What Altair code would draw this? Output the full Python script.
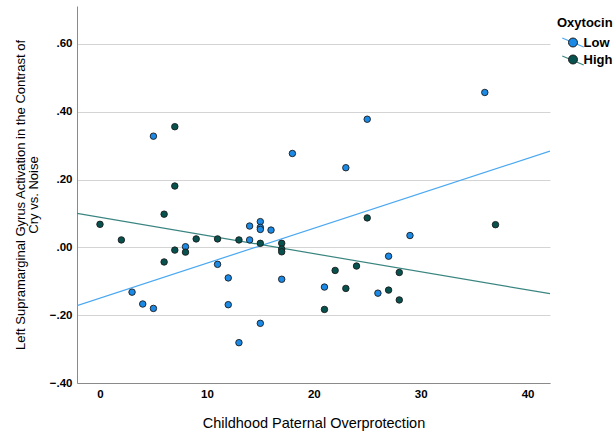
import altair as alt
import pandas as pd

# Childhood paternal overprotection score and left SMG activation (cry vs. noise)
low_x = [5, 18, 14, 15, 15, 15, 16, 14, 11, 12, 12, 15, 13, 17, 8, 3, 4, 5,
         36, 25, 23, 29, 27, 21, 26]
low_y = [0.328, 0.277, 0.063, 0.076, 0.059, 0.053, 0.051, 0.022, -0.050, -0.090,
         -0.169, -0.224, -0.281, -0.094, 0.002, -0.132, -0.167, -0.180,
         0.457, 0.378, 0.235, 0.035, -0.026, -0.117, -0.135]

high_x = [7, 7, 6, 0, 2, 9, 11, 13, 7, 8, 6, 15, 17, 17, 17, 25, 37, 22, 24,
          28, 23, 27, 28, 21]
high_y = [0.356, 0.181, 0.098, 0.068, 0.022, 0.025, 0.025, 0.022, -0.008,
          -0.014, -0.043, 0.012, 0.012, -0.005, -0.013, 0.087, 0.067, -0.068,
          -0.055, -0.074, -0.121, -0.126, -0.155, -0.183]

groups = ["Low", "High"]
fill_colors = ["#1a8ae6", "#07524e"]
line_colors = ["#4aa8f2", "#3a8580"]
x_domain = [-2.15, 42.1]
y_domain = [-0.40, 0.712]
y_ticks = [-0.4, -0.2, 0.0, 0.2, 0.4, 0.6]
x_ticks = [0, 10, 20, 30, 40]

df = pd.concat([
    pd.DataFrame({"x": low_x, "y": low_y, "Oxytocin": "Low"}),
    pd.DataFrame({"x": high_x, "y": high_y, "Oxytocin": "High"}),
], ignore_index=True)

FONT = "Liberation Sans"

# Shared legend layout: a fit-line key sits underneath the marker key
legend_common = dict(
    title="Oxytocin", orient="none", legendX=480, legendY=11,
    symbolSize=80, symbolOffset=9.5, labelOffset=4,
    titleFontSize=13, titleFontWeight="bold", titleColor="#000",
    labelFontSize=13, labelFontWeight="bold", labelColor="#000",
    rowPadding=3, titlePadding=6,
)

x_enc = alt.X(
    "x:Q",
    scale=alt.Scale(domain=x_domain, nice=False, zero=False),
    axis=alt.Axis(
        title="Childhood Paternal Overprotection",
        values=x_ticks, grid=False, ticks=False, labelPadding=5,
        labelFontWeight="bold", labelFontSize=11.5, labelColor="#000",
        titleFontSize=14.5, titleFontWeight="normal", titleColor="#000",
        titlePadding=17, domainColor="#8a8a8a",
    ),
)
y_enc = alt.Y(
    "y:Q",
    scale=alt.Scale(domain=y_domain, nice=False, zero=False),
    axis=alt.Axis(
        title=["Left Supramarginal Gyrus Activation in the Contrast of",
               "Cry vs. Noise"],
        values=y_ticks, grid=True, gridColor="#d4d4d4", ticks=False,
        labelExpr="replace(format(datum.value, '.2f'), '0.', '.')",
        labelPadding=5, labelFontWeight="bold", labelFontSize=11.5,
        labelColor="#000", titleFontSize=13, titleFontWeight="normal",
        titleColor="#000", titlePadding=9, titleLineHeight=13,
        domainColor="#8a8a8a",
    ),
)

# Per-group least-squares fit lines across the full x range
lines = alt.Chart(df).transform_calculate(
    fitgroup="datum.Oxytocin"
).transform_regression(
    "x", "y", groupby=["fitgroup"], extent=x_domain
).mark_line(strokeWidth=1.2, clip=True).encode(
    x=x_enc,
    y=y_enc,
    stroke=alt.Stroke(
        "fitgroup:N",
        scale=alt.Scale(domain=groups, range=line_colors),
        legend=alt.Legend(
            symbolType="M -2.4 -1.0 L 2.4 1.0",
            symbolStrokeWidth=1.2, symbolFillColor="transparent",
            titleOpacity=0, labelOpacity=0, **legend_common,
        ),
    ),
)

points = alt.Chart(df).mark_point(
    shape="circle", filled=True, size=42, stroke="#1c1c1c",
    strokeWidth=0.9, opacity=1,
).encode(
    x="x:Q",
    y="y:Q",
    fill=alt.Fill(
        "Oxytocin:N",
        scale=alt.Scale(domain=groups, range=fill_colors),
        legend=alt.Legend(
            symbolType="circle", symbolStrokeColor="#1c1c1c",
            symbolStrokeWidth=1, **legend_common,
        ),
    ),
)

chart = (lines + points).resolve_scale(
    stroke="independent", fill="independent"
).resolve_legend(
    stroke="independent", fill="independent"
).properties(
    width=473, height=377,
    autosize=alt.AutoSizeParams(type="none"),
    padding={"left": 77, "top": 6, "right": 66, "bottom": 51},
).configure(font=FONT).configure_view(stroke=None)

chart.save("out.html", embed_options={"renderer": "svg", "actions": False})
